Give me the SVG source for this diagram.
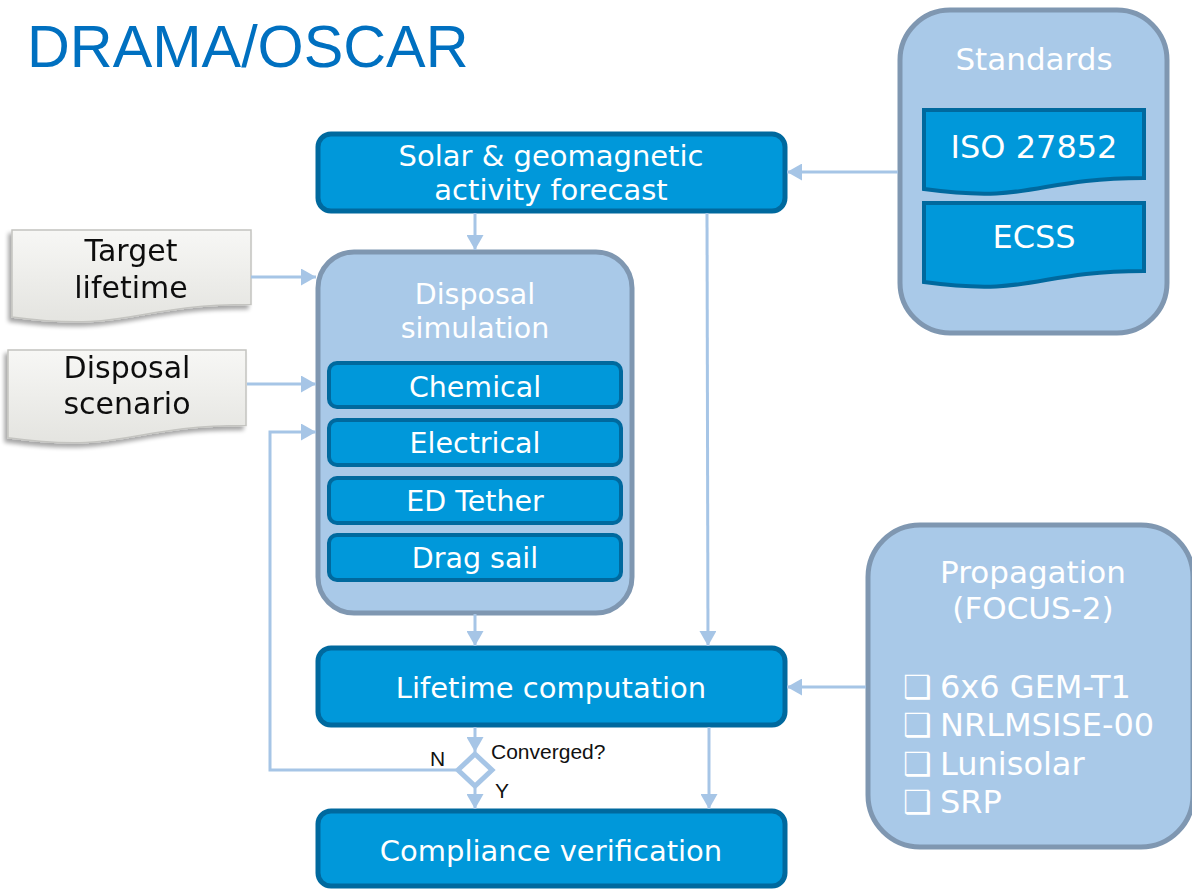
<svg xmlns="http://www.w3.org/2000/svg" width="1192" height="889" viewBox="0 0 1192 889">
<style>
.cont{fill:#A9C9E8;stroke:#7F97B1;stroke-width:5}
.box{fill:#0098DA;stroke:#00699E;stroke-width:5}
.ibox{fill:#0098DA;stroke:#00699E;stroke-width:4}
.doc{fill:#0098DA;stroke:#00699E;stroke-width:4}
.gdoc{fill:url(#gg);stroke:#C4C4C0;stroke-width:1.5}
.wt{font-family:"DejaVu Sans",Verdana,sans-serif;fill:#FFFFFF;text-anchor:middle}
.bt{font-family:"DejaVu Sans",Verdana,sans-serif;fill:#111111;text-anchor:middle}
.lt{font-family:"Liberation Sans",Arial,sans-serif;fill:#111111}
.con{fill:none;stroke:#A6C5E6;stroke-width:3}
</style>
<defs>
<linearGradient id="gg" x1="0" y1="0" x2="0" y2="1">
<stop offset="0" stop-color="#F7F7F5"/>
<stop offset="1" stop-color="#E4E4E0"/>
</linearGradient>
<filter id="sh" x="-10%" y="-10%" width="120%" height="130%">
<feGaussianBlur in="SourceAlpha" stdDeviation="2"/>
<feOffset dx="-3" dy="4" result="o"/>
<feComponentTransfer><feFuncA type="linear" slope="0.35"/></feComponentTransfer>
<feMerge><feMergeNode/><feMergeNode in="SourceGraphic"/></feMerge>
</filter>
<marker id="ah" markerUnits="userSpaceOnUse" markerWidth="17" markerHeight="17" refX="15" refY="8.5" orient="auto">
<path d="M0,0 L15,8.5 L0,17 Z" fill="#A6C5E6"/>
</marker>
</defs>

<text x="27" y="67" font-family="Liberation Sans,Arial,sans-serif" font-size="59.3" fill="#0070C0">DRAMA/OSCAR</text>

<g id="standards">
<rect class="cont" x="900" y="10" width="267" height="323" rx="50"/>
<text class="wt" x="1034" y="70" font-size="31">Standards</text>
</g>
<g id="iso">
<path class="doc" d="M924,110 H1144 V178 C1034,178 1034,204 924,189 Z"/>
<text class="wt" x="1034" y="158" font-size="32">ISO 27852</text>
</g>
<g id="ecss">
<path class="doc" d="M924,203 H1144 V271 C1034,271 1034,297 924,282 Z"/>
<text class="wt" x="1034" y="248" font-size="32">ECSS</text>
</g>

<g id="solar">
<rect class="box" x="318" y="134" width="467" height="77" rx="13"/>
<text class="wt" x="551" y="166" font-size="29">Solar &amp; geomagnetic</text>
<text class="wt" x="551" y="200" font-size="29">activity forecast</text>
</g>

<g id="target" filter="url(#sh)">
<path class="gdoc" d="M12,230 H251 V304.6 C131.5,304.6 131.5,333 12,317 Z"/>
<text class="bt" x="131" y="261" font-size="30">Target</text>
<text class="bt" x="131" y="298" font-size="30">lifetime</text>
</g>
<g id="scenario" filter="url(#sh)">
<path class="gdoc" d="M8,350 H246 V425.4 C127,425.4 127,454 8,437.8 Z"/>
<text class="bt" x="127" y="378" font-size="30">Disposal</text>
<text class="bt" x="127" y="414" font-size="30">scenario</text>
</g>

<g id="disposal">
<rect class="cont" x="318" y="252" width="314" height="361" rx="36"/>
<text class="wt" x="475" y="304" font-size="28.5">Disposal</text>
<text class="wt" x="475" y="338" font-size="28.5">simulation</text>
</g>
<g id="chemical">
<rect class="ibox" x="329" y="363" width="292" height="44" rx="8"/>
<text class="wt" x="475" y="397" font-size="28.5">Chemical</text>
</g>
<g id="electrical">
<rect class="ibox" x="329" y="420" width="292" height="45" rx="8"/>
<text class="wt" x="475" y="453" font-size="28.5">Electrical</text>
</g>
<g id="edtether">
<rect class="ibox" x="329" y="478" width="292" height="45" rx="8"/>
<text class="wt" x="475" y="511" font-size="28.5">ED Tether</text>
</g>
<g id="dragsail">
<rect class="ibox" x="329" y="535" width="292" height="45" rx="8"/>
<text class="wt" x="475" y="568" font-size="28.5">Drag sail</text>
</g>

<g id="lifetime">
<rect class="box" x="318" y="648" width="467" height="77" rx="13"/>
<text class="wt" x="551" y="698" font-size="29">Lifetime computation</text>
</g>

<g id="propagation">
<rect class="cont" x="868" y="525" width="325" height="322" rx="52"/>
<text class="wt" x="1033" y="583" font-size="31">Propagation</text>
<text class="wt" x="1033" y="619" font-size="31">(FOCUS-2)</text>
<text font-family="DejaVu Sans,Verdana,sans-serif" font-size="32" fill="#FFFFFF">
<tspan x="903" y="698">❑</tspan><tspan x="940" y="698">6x6 GEM-T1</tspan>
<tspan x="903" y="736">❑</tspan><tspan x="940" y="736">NRLMSISE-00</tspan>
<tspan x="903" y="775">❑</tspan><tspan x="940" y="775">Lunisolar</tspan>
<tspan x="903" y="813">❑</tspan><tspan x="940" y="813">SRP</tspan>
</text>
</g>

<g id="converged">
<path d="M475,754 L492,770 L475,786 L458,770 Z" fill="#FFFFFF" stroke="#A6C5E6" stroke-width="5"/>
<text class="lt" x="491" y="759" font-size="21">Converged?</text>
<text class="lt" x="430" y="766" font-size="21">N</text>
<text class="lt" x="495" y="798" font-size="21">Y</text>
</g>

<g id="compliance">
<rect class="box" x="318" y="811" width="467" height="75" rx="13"/>
<text class="wt" x="551" y="861" font-size="29">Compliance verification</text>
</g>

<g id="connectors">
<line class="con" x1="898" y1="172" x2="787" y2="172" marker-end="url(#ah)"/>
<line class="con" x1="475" y1="213" x2="475" y2="250" marker-end="url(#ah)"/>
<line class="con" x1="707" y1="213" x2="708" y2="646" marker-end="url(#ah)"/>
<line class="con" x1="251" y1="277" x2="316" y2="277" marker-end="url(#ah)"/>
<line class="con" x1="247" y1="384" x2="316" y2="384" marker-end="url(#ah)"/>
<polyline class="con" points="456,770 270,770 270,432 316,432" marker-end="url(#ah)"/>
<line class="con" x1="475" y1="614" x2="475" y2="646" marker-end="url(#ah)"/>
<line class="con" x1="866" y1="687" x2="787" y2="687" marker-end="url(#ah)"/>
<line class="con" x1="475" y1="727" x2="475" y2="752" marker-end="url(#ah)"/>
<line class="con" x1="475" y1="788" x2="475" y2="809" marker-end="url(#ah)"/>
<line class="con" x1="709" y1="727" x2="709" y2="809" marker-end="url(#ah)"/>
</g>
</svg>
